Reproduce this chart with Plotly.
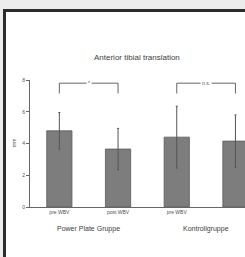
import plotly.graph_objects as go

# ---- data ----
positions = [0, 1, 2, 3]
tick_labels = ["pre WBV", "post WBV", "pre WBV", "post WBV"]
values = [4.8, 3.65, 4.4, 4.15]
errors = [1.15, 1.3, 1.95, 1.65]
groups = ["Power Plate Gruppe", "Kontrollgruppe"]
group_centers = [0.5, 2.5]
brackets = [(0, 1, "*"), (2, 3, "n.s.")]
bracket_top = 7.8
bracket_leg = 7.15
title = "Anterior tibial translation"
y_title = "mm"

W, H = 245, 257
ML, MR, MT, MB = 30, 0, 80, 50
pw = W - ML - MR
ph = H - MT - MB

def px_x(px):
    return (px - ML) / pw

def px_y(py):
    return (H - MB - py) / ph

FONT = "Liberation Sans, Arial, sans-serif"
TXT = "#505050"

fig = go.Figure()
fig.add_trace(go.Bar(
    x=positions, y=values, width=0.43,
    marker=dict(color="#7d7d7d", line=dict(color="#5a5a5a", width=0.8)),
    error_y=dict(type="data", array=errors, visible=True,
                 color="#555555", thickness=1, width=1),
    showlegend=False,
))

shapes = []
# slide background strips (gray) and dark frame
shapes.append(dict(type="rect", xref="paper", yref="paper",
                   x0=px_x(-5), x1=px_x(260), y0=px_y(9), y1=px_y(-5),
                   line=dict(width=0), fillcolor="#ececec", layer="below"))
shapes.append(dict(type="rect", xref="paper", yref="paper",
                   x0=px_x(-5), x1=px_x(3), y0=px_y(270), y1=px_y(-5),
                   line=dict(width=0), fillcolor="#ececec", layer="below"))
shapes.append(dict(type="line", xref="paper", yref="paper",
                   x0=px_x(3), x1=px_x(260), y0=px_y(10.5), y1=px_y(10.5),
                   line=dict(color="#2c2c2c", width=3), layer="below"))
shapes.append(dict(type="line", xref="paper", yref="paper",
                   x0=px_x(4.5), x1=px_x(4.5), y0=px_y(270), y1=px_y(9),
                   line=dict(color="#2c2c2c", width=3), layer="below"))
for a, b, lab in brackets:
    shapes.append(dict(type="path", xref="x", yref="y",
                       path=f"M {a} {bracket_leg} L {a} {bracket_top} L {b} {bracket_top} L {b} {bracket_leg}",
                       line=dict(color="#666666", width=1)))

annotations = [
    dict(text=title, x=px_x(137), y=px_y(57), xref="paper", yref="paper",
         xanchor="center", yanchor="middle",
         showarrow=False, font=dict(size=8, color="#404040", family=FONT)),
    dict(text=y_title, x=px_x(14), y=px_y(143), xref="paper", yref="paper",
         xanchor="center", yanchor="middle",
         showarrow=False, textangle=-90, font=dict(size=5, color=TXT, family=FONT)),
]
for g, c in zip(groups, group_centers):
    annotations.append(dict(text=g, x=c, y=px_y(229), xref="x", yref="paper",
                            xanchor="center", yanchor="middle",
                            showarrow=False, font=dict(size=7, color="#404040", family=FONT)))
for a, b, lab in brackets:
    annotations.append(dict(text=lab, x=(a + b) / 2, y=bracket_top, xref="x", yref="y",
                            xanchor="center", yanchor="middle",
                            showarrow=False, font=dict(size=5, color=TXT, family=FONT),
                            bgcolor="white"))

fig.update_layout(
    width=W, height=H,
    margin=dict(l=ML, r=MR, t=MT, b=MB, pad=0),
    paper_bgcolor="white",
    plot_bgcolor="rgba(0,0,0,0)",
    shapes=shapes, annotations=annotations,
    font=dict(family=FONT, size=5, color=TXT),
    bargap=0.3,
    xaxis=dict(range=[-0.5, (W - ML) / 58.7 - 0.5], tickvals=positions, ticktext=tick_labels,
               showgrid=False, zeroline=False, showline=True, linecolor="#666666", linewidth=1,
               ticks="", tickfont=dict(size=5, color=TXT), fixedrange=True),
    yaxis=dict(range=[0, 8], tickvals=[0, 2, 4, 6, 8], showgrid=False, zeroline=False,
               showline=True, linecolor="#666666", linewidth=1, ticks="outside", ticklen=3,
               tickcolor="#666666", tickfont=dict(size=5, color=TXT), fixedrange=True),
)

fig.write_html(
    "out.html", config={"displayModeBar": False},
    post_script=(
        "document.documentElement.style.overflow='hidden';"
        "document.body.style.margin='0';document.body.style.overflow='hidden';"
        "document.body.style.background='white';"
    ),
)
